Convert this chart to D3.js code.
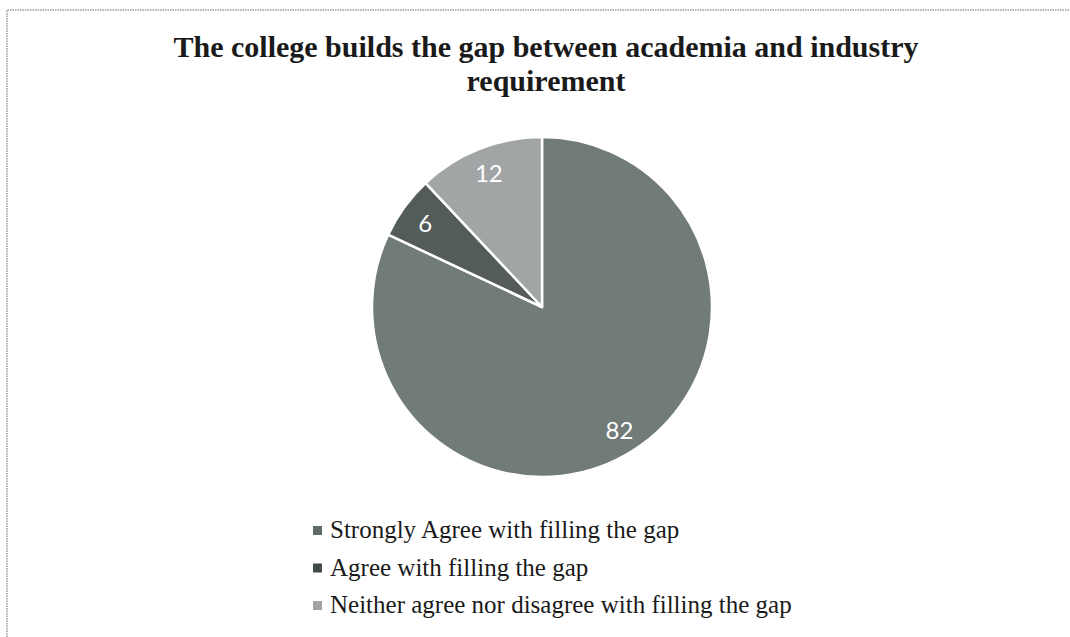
<!DOCTYPE html>
<html>
<head>
<meta charset="utf-8">
<script src="https://cdn.jsdelivr.net/npm/d3@7"></script>
<style>
  html, body { margin: 0; padding: 0; background: #fff; }
</style>
</head>
<body>
<svg id="chart" width="1070" height="637"></svg>
<script>
const titleLines = ['The college builds the gap between academia and industry', 'requirement']
const categories = [
  'Strongly Agree with filling the gap',
  'Agree with filling the gap',
  'Neither agree nor disagree with filling the gap',
]
const values = [82, 6, 12]
const sliceColors = ['#717b78', '#535c59', '#a2a5a6']
const markerColors = ['#5e6a66', '#414b48', '#a3a3a3']

const width = 1070
const height = 637
const cx = 542
const cy = 307
const radius = 170

const svg = d3.select('#chart')

svg.append('rect')
  .attr('width', width)
  .attr('height', height)
  .attr('fill', '#fff')

// dotted frame (top and left edges only are visible)
svg.append('path')
  .attr('d', `M7,${height} V10 H${width}`)
  .attr('fill', 'none')
  .attr('stroke', '#9a9a9a')
  .attr('stroke-width', 1.5)
  .attr('stroke-dasharray', '1.5,1')

// title
svg.append('text')
  .attr('x', 546)
  .attr('y', 57)
  .attr('text-anchor', 'middle')
  .attr('font-family', '"Liberation Serif", "Times New Roman", serif')
  .attr('font-weight', 'bold')
  .attr('font-size', 30)
  .attr('fill', '#1a1a1a')
  .selectAll('tspan')
  .data(titleLines)
  .join('tspan')
  .attr('x', 546)
  .attr('dy', (d, i) => (i === 0 ? 0 : 34))
  .text((d) => d)

// pie
const pie = d3.pie().sort(null).value((d) => d)
const arcs = pie(values)
const arc = d3.arc().innerRadius(0).outerRadius(radius)
const labelArc = d3.arc().innerRadius(radius * 0.85).outerRadius(radius * 0.85)

const g = svg.append('g').attr('transform', `translate(${cx},${cy})`)

g.selectAll('path')
  .data(arcs)
  .join('path')
  .attr('d', arc)
  .attr('fill', (d, i) => sliceColors[i])
  .attr('stroke', '#fff')
  .attr('stroke-width', 2.5)
  .attr('stroke-linejoin', 'round')

g.selectAll('text')
  .data(arcs)
  .join('text')
  .attr('transform', (d) => `translate(${labelArc.centroid(d)})`)
  .attr('text-anchor', 'middle')
  .attr('dominant-baseline', 'central')
  .attr('font-family', 'Lato, "Open Sans", sans-serif')
  .attr('font-size', 24)
  .attr('fill', '#fff')
  .text((d) => d.data)

// legend
const legend = svg.append('g').attr('transform', 'translate(313,538)')
const rows = legend.selectAll('g')
  .data(categories)
  .join('g')
  .attr('transform', (d, i) => `translate(0,${i * 37.5})`)

rows.append('rect')
  .attr('x', 0)
  .attr('y', -12)
  .attr('width', 9)
  .attr('height', 9)
  .attr('fill', (d, i) => markerColors[i])

rows.append('text')
  .attr('x', 17)
  .attr('y', 0)
  .attr('font-family', '"Liberation Serif", "Times New Roman", serif')
  .attr('font-size', 25)
  .attr('fill', '#1a1a1a')
  .text((d) => d)
</script>
</body>
</html>
